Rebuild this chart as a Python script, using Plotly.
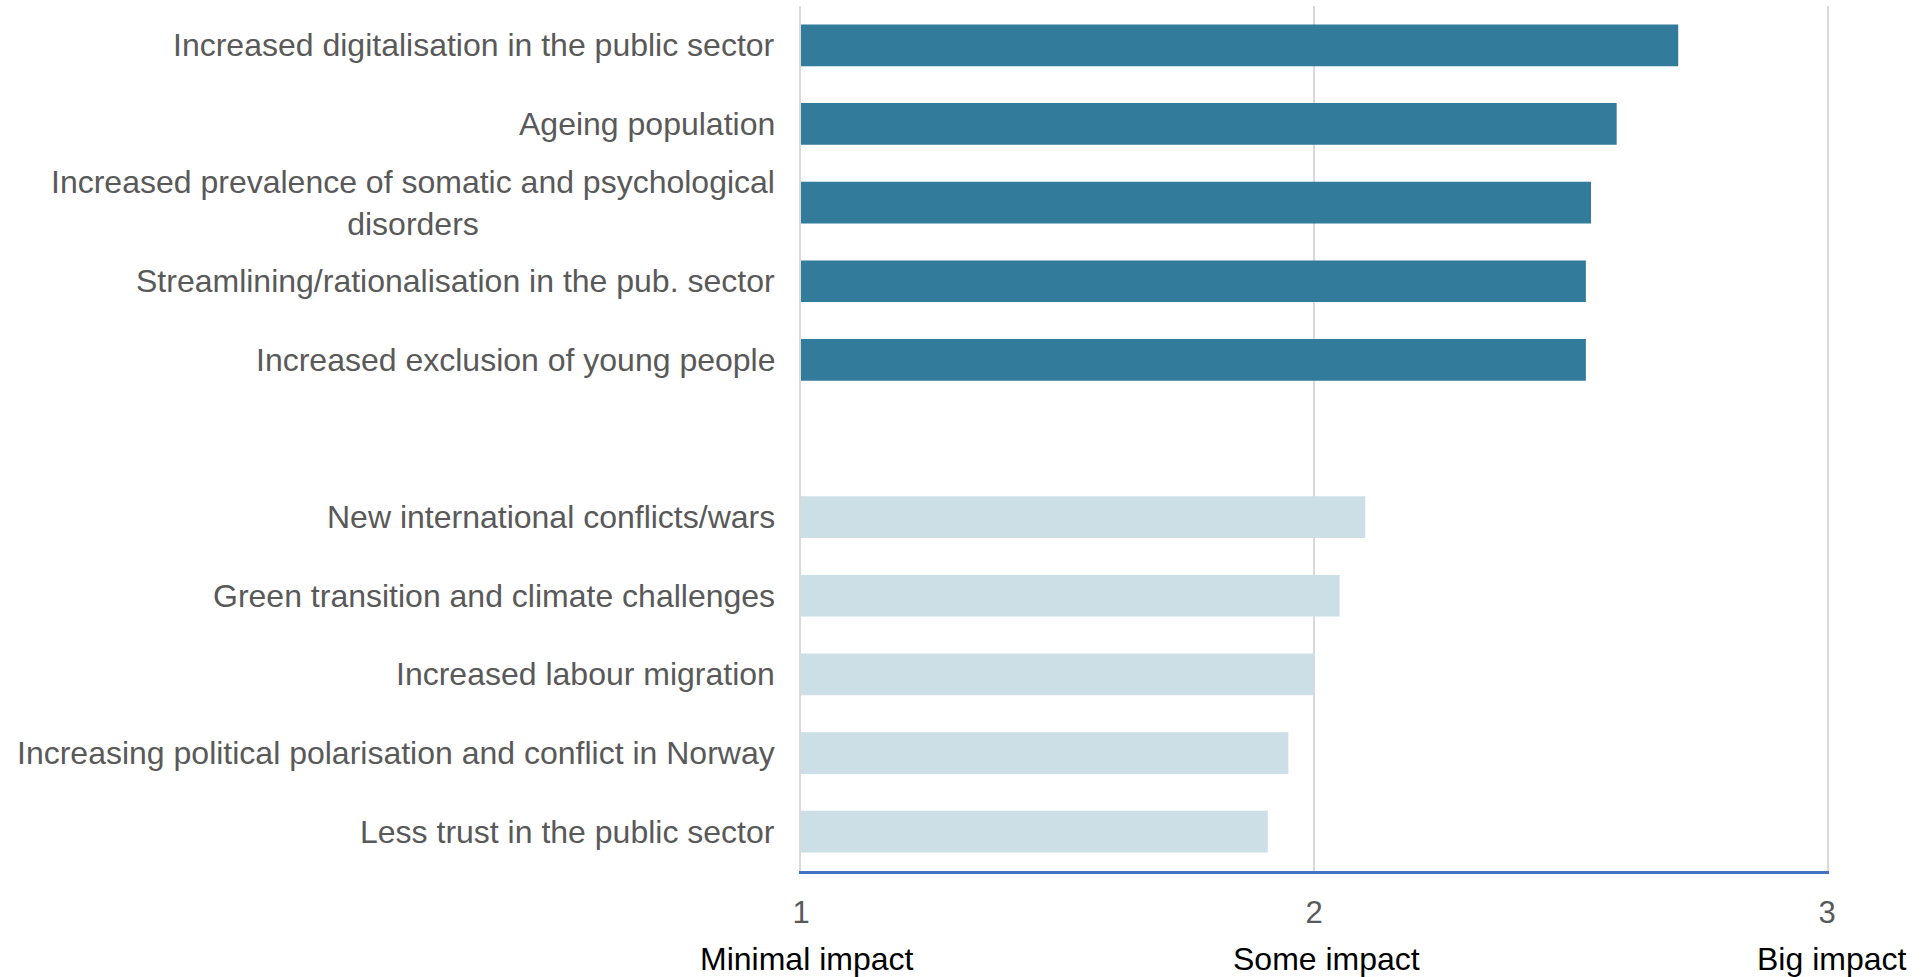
import plotly.graph_objects as go

categories_top = [
    "Increased digitalisation in the public sector",
    "Ageing population",
    "Increased prevalence of somatic and psychological<br>disorders",
    "Streamlining/rationalisation in the pub. sector",
    "Increased exclusion of young people",
]
values_top = [2.71, 2.59, 2.54, 2.53, 2.53]

categories_bottom = [
    "New international conflicts/wars",
    "Green transition and climate challenges",
    "Increased labour migration",
    "Increasing political polarisation and conflict in Norway",
    "Less trust in the public sector",
]
values_bottom = [2.10, 2.05, 2.00, 1.95, 1.91]

spacer = " "
order = categories_top + [spacer] + categories_bottom

tick_values = [1, 2, 3]
tick_text = ["1", "2", "3"]
scale_labels = ["Minimal impact", "Some impact", "Big impact"]
scale_shifts = [5, 12, 5]

DARK = "#337B9A"
LIGHT = "#CCDFE6"
GREY_TEXT = "#595959"

fig = go.Figure()
fig.add_trace(go.Bar(y=categories_top, x=values_top, orientation="h",
                     marker=dict(color=DARK, line=dict(width=0)), showlegend=False))
fig.add_trace(go.Bar(y=categories_bottom, x=values_bottom, orientation="h",
                     marker=dict(color=LIGHT, line=dict(width=0)), showlegend=False))

annotations = []
for c in categories_top + categories_bottom:
    annotations.append(dict(
        x=0, xref="paper", y=c, yref="y", text=c, showarrow=False,
        xanchor="right", yanchor="middle", align="center", xshift=-24,
        font=dict(family="Liberation Sans, Arial", size=32, color=GREY_TEXT)))
for v, lab, sh in zip(tick_values, scale_labels, scale_shifts):
    annotations.append(dict(
        x=v, xref="x", y=0, yref="paper", text=lab, showarrow=False,
        xanchor="center", yanchor="middle", yshift=-88, xshift=sh,
        font=dict(family="Liberation Sans, Arial", size=32, color="#000000")))

fig.update_layout(
    width=1923, height=977,
    margin=dict(l=801, r=96, t=6, b=106, pad=0),
    paper_bgcolor="white", plot_bgcolor="white",
    barmode="overlay", bargap=0.47,
    annotations=annotations,
    font=dict(family="Liberation Sans, Arial", color=GREY_TEXT),
)
fig.update_xaxes(range=[1, 3], tickvals=tick_values, ticktext=tick_text,
                 showgrid=True, gridcolor="#D9D9D9", gridwidth=1.5,
                 showline=True, linecolor="#4472C4", linewidth=2.5,
                 ticks="", zeroline=False, ticklabelstandoff=12,
                 tickfont=dict(family="Liberation Sans, Arial", size=31, color=GREY_TEXT))
fig.update_yaxes(categoryorder="array", categoryarray=order[::-1], type="category",
                 range=[-0.5, len(order) - 0.5],
                 showticklabels=False, showgrid=False, ticks="",
                 showline=True, mirror=True, linecolor="#D9D9D9", linewidth=1.5)

fig.write_html("out.html")
